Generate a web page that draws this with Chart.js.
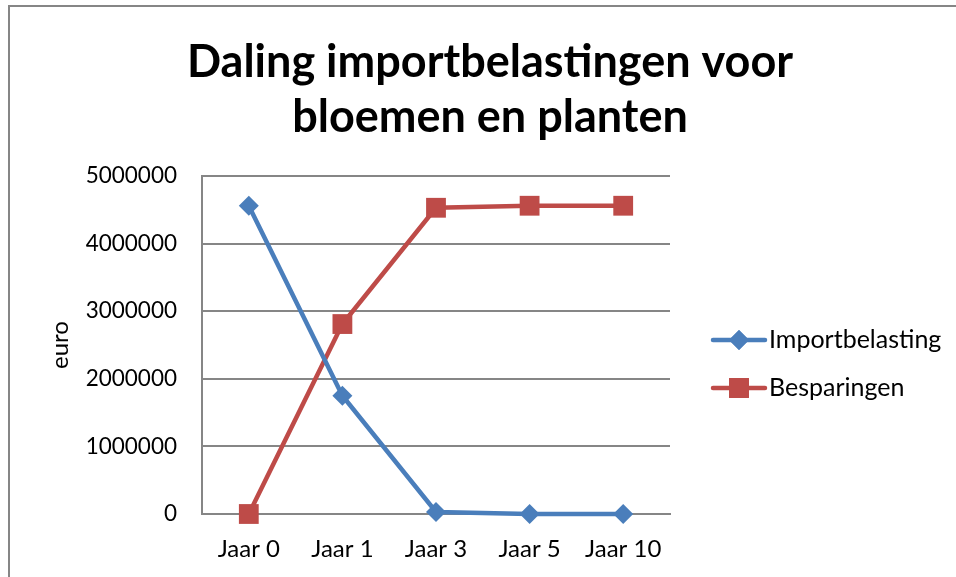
<!DOCTYPE html>
<html>
<head>
<meta charset="utf-8">
<script src="https://cdn.jsdelivr.net/npm/chart.js@4.4.1/dist/chart.umd.min.js"></script>
<style>
    body { margin: 0; background: #fff; }
    #wrap { position: relative; width: 956px; height: 577px; }
    #frame {
        position: absolute; left: 8px; top: 5px; right: -4px; bottom: -4px;
        border-left: 2px solid #868686; border-top: 2px solid #868686;
        pointer-events: none;
    }
</style>
</head>
<body>
<div id="wrap">
    <canvas id="chart" width="956" height="577"></canvas>
    <div id="frame"></div>
</div>
<script>
// --- Data ---
const categories = ['Jaar 0', 'Jaar 1', 'Jaar 3', 'Jaar 5', 'Jaar 10'];
const importbelasting = [4560000, 1750000, 30000, 0, 0];
const besparingen = [0, 2810000, 4530000, 4560000, 4560000];
const yTicks = [0, 1000000, 2000000, 3000000, 4000000, 5000000];
const titleLines = ['Daling importbelastingen voor', 'bloemen en planten'];

const BLUE = '#4A7EBB';
const RED = '#BE4B48';
const FONT = 'Lato, "Liberation Sans", sans-serif';

// Title centred on the whole canvas (the built-in one centres over the plot only)
const pageTitle = {
    id: 'pageTitle',
    afterDraw(chart) {
        const ctx = chart.ctx;
        ctx.save();
        ctx.fillStyle = '#000';
        ctx.font = 'bold 45px ' + FONT;
        ctx.textAlign = 'center';
        ctx.textBaseline = 'middle';
        ctx.fillText(titleLines[0], 490, 62);
        ctx.fillText(titleLines[1], 490, 117);
        ctx.restore();
    }
};

// Legend drawn on the right side, line + marker like the original
const sideLegend = {
    id: 'sideLegend',
    afterDraw(chart) {
        const ctx = chart.ctx;
        const items = chart.data.datasets.map((ds, i) => ({
            text: ds.label, color: ds.borderColor, style: ds.pointStyle, radius: ds.pointRadius, y: 340 + i * 48
        }));
        ctx.save();
        items.forEach(item => {
            ctx.strokeStyle = item.color;
            ctx.lineWidth = 4.5;
            ctx.lineCap = 'round';
            ctx.beginPath();
            ctx.moveTo(713, item.y);
            ctx.lineTo(765, item.y);
            ctx.stroke();
            ctx.fillStyle = item.color;
            Chart.helpers.drawPoint(ctx, { pointStyle: item.style, radius: item.radius, borderWidth: 0 }, 739, item.y);
            ctx.fill();
            ctx.fillStyle = '#000';
            ctx.font = '25px ' + FONT;
            ctx.textBaseline = 'middle';
            ctx.textAlign = 'left';
            ctx.fillText(item.text, 769, item.y);
        });
        ctx.restore();
    }
};

const ctx = document.getElementById('chart').getContext('2d');
new Chart(ctx, {
    type: 'line',
    data: {
        labels: categories,
        datasets: [{
            label: 'Importbelasting',
            data: importbelasting,
            borderColor: BLUE,
            backgroundColor: BLUE,
            borderWidth: 4.5,
            pointStyle: 'rectRot',
            pointRadius: 10,
            pointBorderWidth: 0,
            tension: 0,
            clip: false
        }, {
            label: 'Besparingen',
            data: besparingen,
            borderColor: RED,
            backgroundColor: RED,
            borderWidth: 4.5,
            pointStyle: 'rect',
            pointRadius: 14,
            pointBorderWidth: 0,
            tension: 0,
            clip: false
        }]
    },
    options: {
        responsive: false,
        animation: false,
        layout: { padding: { top: 176, right: 286, left: 38, bottom: 0 } },
        plugins: {
            legend: { display: false },
            tooltip: { enabled: false },
            title: { display: false }
        },
        scales: {
            x: {
                offset: true,
                grid: { display: false, drawTicks: false },
                border: { color: '#868686', width: 2 },
                ticks: { color: '#000', font: { family: FONT, size: 24 }, padding: 21 },
                afterFit(scale) { scale.height = 63; }
            },
            y: {
                min: 0,
                max: 5000000,
                afterBuildTicks(scale) { scale.ticks = yTicks.map(v => ({ value: v })); },
                afterFit(scale) { scale.width = 164; },
                grid: { color: '#868686', lineWidth: 2, drawTicks: false },
                border: { color: '#868686', width: 2 },
                ticks: {
                    color: '#000',
                    font: { family: FONT, size: 22.5 },
                    padding: 25,
                    callback: v => String(v)
                },
                title: {
                    display: true,
                    text: 'euro',
                    color: '#000',
                    font: { family: FONT, size: 24 },
                    padding: 8
                }
            }
        }
    },
    plugins: [pageTitle, sideLegend]
});
</script>
</body>
</html>
